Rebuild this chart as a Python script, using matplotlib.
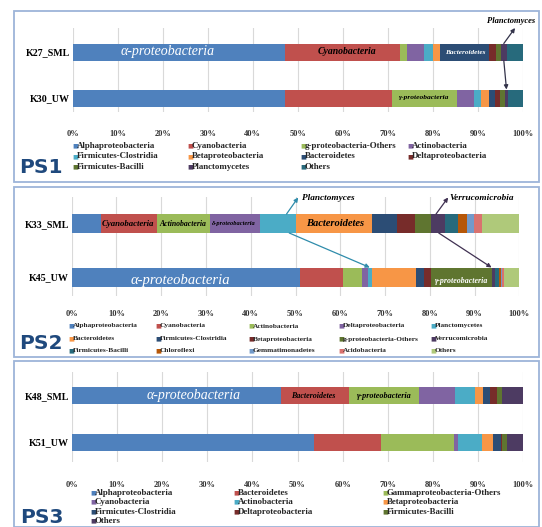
import numpy as np
import matplotlib.pyplot as plt
from matplotlib.patches import Rectangle

W, H = 542, 527
SERIF = "Liberation Serif"

# Excel-style palette
BLUE, RED, GREEN, PURPLE = "#4F81BD", "#C0504D", "#9BBB59", "#8064A2"
CYAN, ORANGE, NAVY, MAROON = "#4BACC6", "#F79646", "#2C4D75", "#772C2A"
OLIVE, PLUM, TEAL, RUST = "#5F7530", "#4D3B62", "#276A7C", "#B65708"
SKY, ROSE, LIME = "#729ACA", "#D9726F", "#AFC97A"

# ---------------- data (relative abundance, %) ----------------
ps1_samples = ["K30_UW", "K27_SML"]
ps1_groups = ["Alphaproteobacteria", "Cyanobacteria", "g-proteobacteria-Others",
              "Actinobacteria", "Firmicutes-Clostridia", "Betaproteobacteria",
              "Bacteroidetes", "Deltaproteobacteria", "Firmicutes-Bacilli",
              "Planctomycetes", "Others"]
ps1_colors = [BLUE, RED, GREEN, PURPLE, CYAN, ORANGE, NAVY, MAROON, OLIVE, PLUM, TEAL]
ps1_k30 = [47.2, 23.8, 14.3, 3.9, 1.6, 1.8, 1.2, 1.2, 1.1, 0.7, 3.2]
ps1_k27 = [47.2, 25.5, 1.5, 3.9, 1.9, 1.6, 11.0, 1.5, 1.1, 1.3, 3.5]

ps2_samples = ["K45_UW", "K33_SML"]
ps2_groups = ["Alphaproteobacteria", "Cyanobacteria", "Actinobacteria",
              "Deltaproteobacteria", "Planctomycetes", "Bacteroidetes",
              "Firmicutes-Clostridia", "Betaproteobacteria", "g-proteobacteria-Others",
              "Verrucomicrobia", "Firmicutes-Bacilli", "Chloroflexi",
              "Gemmatimonadetes", "Acidobacteria", "Others"]
ps2_colors = [BLUE, RED, GREEN, PURPLE, CYAN, ORANGE, NAVY, MAROON, OLIVE, PLUM,
              TEAL, RUST, SKY, ROSE, LIME]
ps2_k45 = [50.9, 9.8, 4.1, 1.5, 0.8, 9.8, 1.8, 1.5, 13.7, 0.7, 0.9, 0.5, 0.2, 0.4, 3.4]
ps2_k33 = [6.5, 12.5, 11.9, 11.2, 8.0, 16.9, 5.6, 4.1, 3.5, 3.3, 2.9, 2.0, 1.5, 1.7, 8.4]

ps3_samples = ["K51_UW", "K48_SML"]
ps3_groups = ["Alphaproteobacteria", "Bacteroidetes", "Gammaproteobacteria-Others",
              "Cyanobacteria", "Actinobacteria", "Betaproteobacteria",
              "Firmicutes-Clostridia", "Deltaproteobacteria", "Firmicutes-Bacilli",
              "Others"]
ps3_colors = [BLUE, RED, GREEN, PURPLE, CYAN, ORANGE, NAVY, MAROON, OLIVE, PLUM]
ps3_k51 = [53.7, 14.7, 16.3, 0.9, 5.2, 2.4, 1.8, 0.2, 1.3, 3.5]
ps3_k48 = [46.4, 15.0, 15.5, 7.9, 4.4, 1.8, 1.6, 1.6, 1.0, 4.8]

pct_ticks = list(range(0, 101, 10))


fig = plt.figure(figsize=(W / 100, H / 100), dpi=100)


def box(x0, y0, x1, y1):
    fig.patches.append(Rectangle((x0 / W, 1 - y1 / H), (x1 - x0) / W, (y1 - y0) / H,
                                 transform=fig.transFigure, fill=False,
                                 edgecolor="#9DB4D9", lw=1.3))


def stacked_panel(x0, x1, top, bottom, centers, bar_px, samples, rows, colors, pad):
    """centers = pixel rows of (lower bar, upper bar)"""
    ax = fig.add_axes([x0 / W, 1 - bottom / H, (x1 - x0) / W, (bottom - top) / H])
    scale = centers[0] - centers[1]
    ax.set_ylim(-(bottom - centers[0]) / scale, 1 + (centers[1] - top) / scale)
    bh = bar_px / scale
    for i, vals in enumerate(rows):
        left = np.concatenate([[0], np.cumsum(vals)[:-1]])
        ax.barh(i, vals, left=left, height=bh, color=colors, linewidth=0)
    ax.set_xlim(0, 100)
    ax.set_xticks(pct_ticks)
    ax.set_xticklabels([f"{t}%" for t in pct_ticks], fontfamily=SERIF,
                       fontweight="bold", fontsize=6, color="#333333")
    ax.set_yticks([0, 1])
    ax.set_yticklabels(samples, fontfamily=SERIF, fontweight="bold", fontsize=7.2)
    ax.tick_params(length=0, axis="x", pad=pad)
    ax.tick_params(length=0, axis="y", pad=2)
    ax.grid(axis="x", color="#D9D9D9", lw=0.8)
    ax.set_axisbelow(True)
    for s in ax.spines.values():
        s.set_visible(False)
    return ax, bh


def legend_grid(labels, colors, ncol, xs, ys, size):
    for k, (lab, col) in enumerate(zip(labels, colors)):
        r, c = divmod(k, ncol)
        fig.text(xs[c] / W, 1 - ys[r] / H, "\u25a0", color=col, fontsize=4.5,
                 va="center", ha="left", family="DejaVu Sans")
        fig.text((xs[c] + 5) / W, 1 - ys[r] / H, lab, fontsize=size, va="center",
                 ha="left", family=SERIF, fontweight="bold", color="#262626")


def seg_label(ax, x, y, txt, size, color="black", bold=True):
    ax.text(x, y, txt, ha="center", va="center", fontsize=size, color=color,
            family=SERIF, style="italic", fontweight="bold" if bold else "normal")


def ps_tag(x, y, txt):
    fig.text(x / W, 1 - y / H, txt, fontsize=14.5, fontweight="bold",
             color="#1F497D", family="DejaVu Sans", va="baseline")


# ---------------- PS1 ----------------
box(14, 11, 539, 182)
ax1, bh1 = stacked_panel(72.7, 522.7, 28, 112, (98, 52), 17, ps1_samples,
                         [ps1_k30, ps1_k27], ps1_colors, 13)
seg_label(ax1, 21, 1, "\u03b1-proteobacteria", 10, "white", bold=False)
seg_label(ax1, 61, 1, "Cyanobacteria", 7)
seg_label(ax1, 87.2, 1, "Bacteroidetes", 5.2, "white")
seg_label(ax1, 78, 0, "\u03b3-proteobacteria", 5.4)
ax1.annotate("", xy=(98.3, 1.0), xycoords=("data", "axes fraction"),
             xytext=(95.8, 1 + bh1 / 2), textcoords="data", annotation_clip=False,
             arrowprops=dict(arrowstyle="-|>", color="#33334A", lw=0.9,
                             shrinkA=0, shrinkB=0, mutation_scale=6))
ax1.annotate("", xy=(96.4, bh1 / 2), xytext=(95.8, 1 - bh1 / 2),
             arrowprops=dict(arrowstyle="-|>", color="#33334A", lw=0.9,
                             shrinkA=0, shrinkB=0, mutation_scale=6))
ax1.text(92.0, 1.08, "Planctomyces", transform=ax1.get_xaxis_transform(),
         fontsize=6.1, family=SERIF, style="italic", fontweight="bold",
         va="center", ha="left", clip_on=False)
legend_grid(ps1_groups, ps1_colors, 4, [72, 187, 300, 407], [146, 156.5, 167], 6.4)
ps_tag(19, 173, "PS1")

# ---------------- PS2 ----------------
box(14, 187, 539, 357)
ax2, bh2 = stacked_panel(71.7, 519.3, 197, 296, (277, 223.5), 19, ps2_samples,
                         [ps2_k45, ps2_k33], ps2_colors, 10)
seg_label(ax2, 12.6, 1, "Cyanobacteria", 6.3)
seg_label(ax2, 24.8, 1, "Actinobacteria", 5.6)
seg_label(ax2, 36.3, 1, "\u03b4-proteobacteria", 4.6)
seg_label(ax2, 58.8, 1, "Bacteroidetes", 7.6)
seg_label(ax2, 24.2, -0.07, "\u03b1-proteobacteria", 10.5, "white", bold=False)
seg_label(ax2, 87.1, -0.07, "\u03b3-proteobacteria", 5.7, "white")
for (x_bar, x_tip, x_low, col, name, x_txt) in [
        (48.0, 50.6, 66.6, "#2F8CAB", "Planctomyces", 51.4),
        (81.4, 84.1, 93.8, "#403152", "Verrucomicrobia", 84.5)]:
    ax2.annotate("", xy=(x_tip, 0.995), xycoords=("data", "axes fraction"),
                 xytext=(x_bar, 1 + bh2 / 2), textcoords="data",
                 annotation_clip=False,
                 arrowprops=dict(arrowstyle="-|>", color=col, lw=0.9,
                                 shrinkA=0, shrinkB=0, mutation_scale=6))
    ax2.annotate("", xy=(x_low, bh2 / 2), xytext=(x_bar + 0.6, 1 - bh2 / 2),
                 arrowprops=dict(arrowstyle="-|>", color=col, lw=0.9,
                                 shrinkA=0, shrinkB=0, mutation_scale=6))
    ax2.text(x_txt, 0.99, name, transform=ax2.get_xaxis_transform(),
             fontsize=6.7, family=SERIF, style="italic", fontweight="bold",
             va="center", ha="left", clip_on=False)
legend_grid(ps2_groups, ps2_colors, 5, [68, 155, 248, 338, 430], [326, 339, 351], 5.3)
ps_tag(19, 349, "PS2")

# ---------------- PS3 ----------------
box(14, 361, 539, 527)
ax3, bh3 = stacked_panel(71.7, 523.3, 372, 462, (442, 395.5), 17, ps3_samples,
                         [ps3_k51, ps3_k48], ps3_colors, 14)
seg_label(ax3, 26.9, 1, "\u03b1-proteobacteria", 10, "white", bold=False)
seg_label(ax3, 53.4, 1, "Bacteroidetes", 5.8)
seg_label(ax3, 69.2, 1, "\u03b3-proteobacteria", 5.9)
legend_grid(ps3_groups, ps3_colors, 3, [90, 233, 382], [493, 502.3, 511.7, 520.7], 6.4)
ps_tag(20, 523, "PS3")

fig.savefig("out.png", dpi=100, facecolor="white")
